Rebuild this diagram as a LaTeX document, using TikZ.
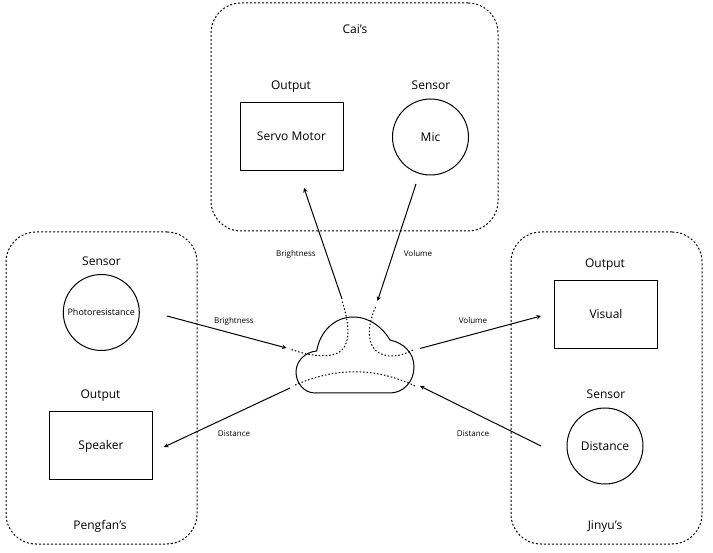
\documentclass[tikz,border=0pt]{standalone}
\usepackage{fontspec}
\setmainfont{Open Sans}
\tikzstyle{group}=[draw,rounded corners=30pt,dash pattern=on 2pt off 2pt,line width=1pt,inner sep=0pt]
\tikzstyle{sensor}=[circle,draw,line width=1pt,minimum size=76pt,inner sep=0pt,text height=8.5pt,text depth=0pt,font=\fontsize{12}{14}\selectfont]
\tikzstyle{output}=[rectangle,draw,line width=1pt,minimum width=103pt,minimum height=68pt,inner sep=0pt,text height=8.5pt,text depth=0pt,font=\fontsize{12}{14}\selectfont]
\tikzstyle{title}=[inner sep=0pt,text height=8.5pt,text depth=0pt,font=\fontsize{12}{14}\selectfont]
\tikzstyle{flow}=[inner sep=0pt,text height=6pt,text depth=0pt,font=\fontsize{8}{10}\selectfont]
\tikzstyle{link}=[-stealth,line width=1pt]
\tikzstyle{pass}=[dash pattern=on 1.5pt off 2pt,line width=1pt]

\begin{document}
\begin{tikzpicture}[x=1pt,y=-1pt]
\useasboundingbox (0,0) rectangle (713,553);

\node[group,minimum width=287pt,minimum height=228pt] (cai) at (354.5,117) {};
\node[group,minimum width=191pt,minimum height=312pt] (pengfan) at (101.5,388) {};
\node[group,minimum width=191pt,minimum height=312pt] (jinyu) at (606.5,388) {};

\node[title] (cainame) at (355,29) {Cai's};
\node[title] (pengfanname) at (100,525) {Pengfan's};
\node[title] (jinyuname) at (605,525) {Jinyu's};

\node[output] (servo) at (291.5,136.7) {Servo Motor};
\node[sensor] (mic) at (430.5,137) {Mic};
\node[sensor,text height=6.5pt] (photo) at (101.3,312.5) {\fontsize{9}{11}\selectfont Photoresistance};
\node[output] (speaker) at (101,445.7) {Speaker};
\node[output] (visual) at (606,314.7) {Visual};
\node[sensor] (distance) at (605,446) {Distance};

\node[title] (servotitle) at (291,85) {Output};
\node[title] (mictitle) at (431,85) {Sensor};
\node[title] (phototitle) at (101.5,261) {Sensor};
\node[title] (speakertitle) at (100.5,394) {Output};
\node[title] (visualtitle) at (605,263) {Output};
\node[title] (distancetitle) at (606,394) {Sensor};

% cloud
\draw[line width=1pt] (316.7,351) .. controls (320,331) and (335,317) .. (353,317)
  .. controls (370,317) and (383,328) .. (390,340)
  .. controls (404,343) and (414,353) .. (414,367)
  .. controls (414,382) and (403,393) .. (390,393)
  -- (315,393)
  .. controls (304,393) and (296,383) .. (296,372)
  .. controls (296,361) and (305,352) .. (316.7,351);

\coordinate (brightin) at (286.5,348);
\coordinate (brightpass) at (291.5,349.5);
\coordinate (brightturn) at (342,301);
\coordinate (brightout) at (342,299);
\coordinate (volin) at (377.5,301);
\coordinate (volpass) at (375.5,307);
\coordinate (volturn) at (413,350);
\coordinate (volout) at (420,348.5);
\coordinate (distin) at (420,386);
\coordinate (distpass) at (415,386);
\coordinate (distturn) at (293,386);
\coordinate (distout) at (290,388);

\draw[link] (167,316) -- (brightin);
\draw[pass] (brightpass) .. controls (312,357) and (332,358) .. (341,351) .. controls (350,343) and (350,325) .. (brightturn);
\draw[link] (brightout) -- (304,188);

\draw[link] (416,184) -- (volin);
\draw[pass] (volpass) .. controls (369,322) and (366,340) .. (375,350) .. controls (385,359) and (400,357) .. (volturn);
\draw[link] (volout) -- (541,316);

\draw[link] (541,446) -- (distin);
\draw[pass] (distpass) .. controls (375,367) and (335,367) .. (distturn);
\draw[link] (distout) -- (164,447);

\node[flow] (brighta) at (296,254) {Brightness};
\node[flow] (vola) at (418,254) {Volume};
\node[flow] (brightb) at (234,321) {Brightness};
\node[flow] (volb) at (473,321) {Volume};
\node[flow] (dista) at (234,434) {Distance};
\node[flow] (distb) at (473,434) {Distance};
\end{tikzpicture}
\end{document}
